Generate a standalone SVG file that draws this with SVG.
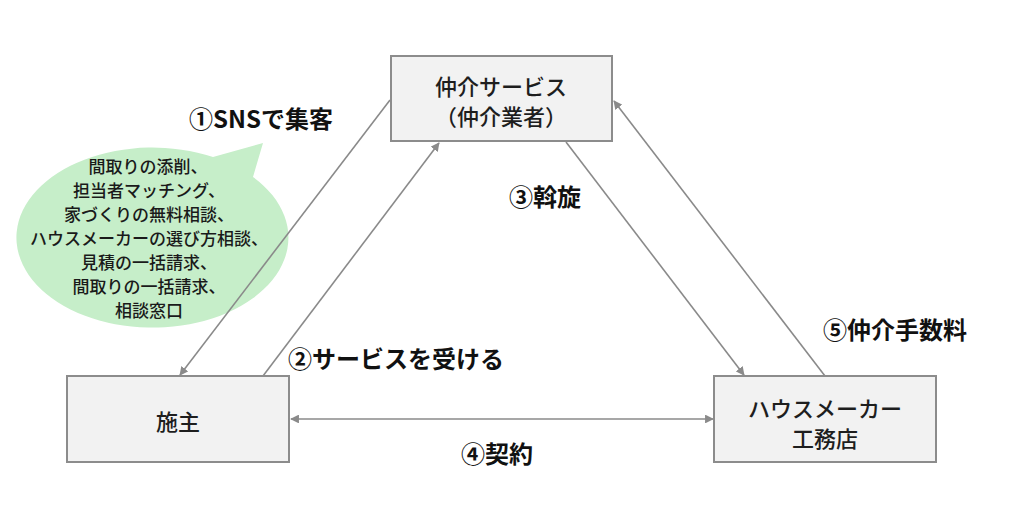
<svg xmlns="http://www.w3.org/2000/svg" width="1024" height="515" viewBox="0 0 1024 515">
  <style>
    .box { fill: #f2f2f2; stroke: #8c8c8c; stroke-width: 2; }
    .btxt { font-family: "Noto Sans CJK JP", "Noto Sans", sans-serif; font-size: 22px; font-weight: 500; fill: #1e1e1e; text-anchor: middle; dominant-baseline: central; }
    .lbl { font-family: "Noto Sans CJK JP", "Noto Sans", sans-serif; font-size: 24px; font-weight: bold; fill: #111; text-anchor: middle; dominant-baseline: central; }
    .bub { font-family: "Noto Sans CJK JP", "Noto Sans", sans-serif; font-size: 17px; font-weight: 500; fill: #1a1a1a; text-anchor: middle; dominant-baseline: central; }
    .con { stroke: #8a8a8a; stroke-width: 1.6; fill: none; }
  </style>
  <defs>
    <marker id="ah" viewBox="0 0 10 10" refX="9" refY="5" markerWidth="5.5" markerHeight="5.5" markerUnits="strokeWidth" orient="auto-start-reverse">
      <path d="M0,0 L10,5 L0,10 Z" fill="#8a8a8a"/>
    </marker>
  </defs>
  <rect width="1024" height="515" fill="#ffffff"/>

  <g id="bubble">
    <path d="M213,157 L263,143 L253,177 A136,90 0 1 1 213,157 Z" fill="#c6eec9"/>
    <text class="bub" x="148" y="165">間取りの添削、</text>
    <text class="bub" x="149" y="189">担当者マッチング、</text>
    <text class="bub" x="149" y="213">家づくりの無料相談、</text>
    <text class="bub" x="149" y="237">ハウスメーカーの選び方相談、</text>
    <text class="bub" x="149" y="261">見積の一括請求、</text>
    <text class="bub" x="149" y="285">間取りの一括請求、</text>
    <text class="bub" x="149" y="309">相談窓口</text>
  </g>

  <g id="connectors">
    <line class="con" x1="390" y1="100" x2="180" y2="375" marker-end="url(#ah)"/>
    <line class="con" x1="263" y1="376" x2="439" y2="143" marker-end="url(#ah)"/>
    <line class="con" x1="566" y1="142" x2="744" y2="375" marker-end="url(#ah)"/>
    <line class="con" x1="825" y1="376" x2="614" y2="101" marker-end="url(#ah)"/>
    <line class="con" x1="291" y1="419" x2="713" y2="419" marker-start="url(#ah)" marker-end="url(#ah)"/>
  </g>

  <g id="node-broker">
    <rect class="box" x="391" y="56" width="221" height="85"/>
    <text class="btxt" x="501" y="85">仲介サービス</text>
    <text class="btxt" x="501" y="115">（仲介業者）</text>
  </g>

  <g id="node-owner">
    <rect class="box" x="67" y="376" width="222" height="86"/>
    <text class="btxt" x="178" y="420">施主</text>
  </g>

  <g id="node-maker">
    <rect class="box" x="714" y="376" width="222" height="86"/>
    <text class="btxt" x="825" y="407">ハウスメーカー</text>
    <text class="btxt" x="825" y="437">工務店</text>
  </g>

  <g id="labels">
    <text class="lbl" x="261" y="117">①SNSで集客</text>
    <text class="lbl" x="545" y="195">③斡旋</text>
    <text class="lbl" x="396" y="357">②サービスを受ける</text>
    <text class="lbl" x="895" y="328">⑤仲介手数料</text>
    <text class="lbl" x="497" y="452">④契約</text>
  </g>
</svg>
